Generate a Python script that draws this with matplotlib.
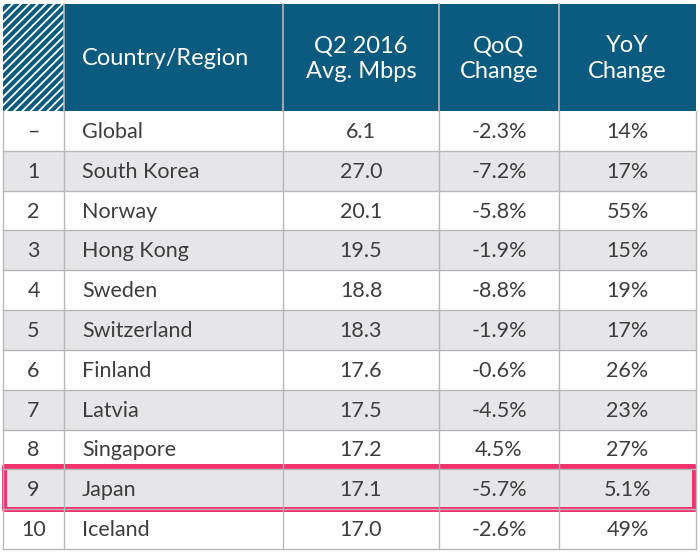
import matplotlib.pyplot as plt
from matplotlib.patches import Rectangle

ranks = ['–', '1', '2', '3', '4', '5', '6', '7', '8', '9', '10']
countries = ['Global', 'South Korea', 'Norway', 'Hong Kong', 'Sweden', 'Switzerland',
             'Finland', 'Latvia', 'Singapore', 'Japan', 'Iceland']
avg_mbps = [6.1, 27.0, 20.1, 19.5, 18.8, 18.3, 17.6, 17.5, 17.2, 17.1, 17.0]
qoq = ['-2.3%', '-7.2%', '-5.8%', '-1.9%', '-8.8%', '-1.9%', '-0.6%', '-4.5%', '4.5%', '-5.7%', '-2.6%']
yoy = ['14%', '17%', '55%', '15%', '19%', '17%', '26%', '23%', '27%', '5.1%', '49%']
headers = ['', 'Country/Region', 'Q2 2016\nAvg. Mbps', 'QoQ\nChange', 'YoY\nChange']
highlight = 'Japan'

HEAD = '#0b5a80'
GRAY = '#e6e6e8'
LINE = '#b8b8b8'
TXT = '#3d3d3d'
PINK = '#f0336e'

col_x = [3, 64, 283, 439, 559, 696]
head_top, head_bot = 4, 111
row_h = (549 - head_bot) / len(countries)

plt.rcParams['font.family'] = ['Lato', 'DejaVu Sans']
plt.rcParams['hatch.linewidth'] = 1.3

fig = plt.figure(figsize=(7, 5.54), dpi=100)
ax = fig.add_axes([0, 0, 1, 1])
ax.set_xlim(0, 700)
ax.set_ylim(554, 0)
ax.axis('off')

# header
for i in range(5):
    x0, x1 = col_x[i], col_x[i + 1]
    if i == 0:
        ax.add_patch(Rectangle((x0, head_top), x1 - x0, head_bot - head_top,
                               facecolor=HEAD, edgecolor='white', hatch='////', lw=0))
    else:
        ax.add_patch(Rectangle((x0, head_top), x1 - x0, head_bot - head_top,
                               facecolor=HEAD, edgecolor='none'))
    if i == 1:
        ax.text(x0 + 18, (head_top + head_bot) / 2 + 1, headers[i], color='white',
                fontsize=17, va='center', ha='left')
    elif i > 1:
        ax.text((x0 + x1) / 2, (head_top + head_bot) / 2 + 1, headers[i], color='white',
                fontsize=17, va='center', ha='center', linespacing=1.25)
for x in col_x[1:-1]:
    ax.plot([x, x], [head_top, head_bot], color=LINE, lw=1.2)

# body
rows = list(zip(ranks, countries, avg_mbps, qoq, yoy))
for r, (rk, name, mb, q, y) in enumerate(rows):
    y0 = head_bot + r * row_h
    fc = GRAY if r % 2 == 1 else 'white'
    ax.add_patch(Rectangle((col_x[0], y0), col_x[-1] - col_x[0], row_h,
                           facecolor=fc, edgecolor='none'))
    yc = y0 + row_h / 2 + 1
    vals = [rk, name, f'{mb:.1f}', q, y]
    for i, v in enumerate(vals):
        if i == 1:
            ax.text(col_x[1] + 18, yc, v, color=TXT, fontsize=15.5, va='center', ha='left')
        else:
            ax.text((col_x[i] + col_x[i + 1]) / 2, yc, v, color=TXT, fontsize=15.5,
                    va='center', ha='center')
    ax.plot([col_x[0], col_x[-1]], [y0 + row_h, y0 + row_h], color=LINE, lw=1)

body_bot = head_bot + len(rows) * row_h
for x in col_x:
    ax.plot([x, x], [head_bot, body_bot], color=LINE, lw=1)

# highlight box
hr = countries.index(highlight)
hy = head_bot + hr * row_h
ax.add_patch(Rectangle((col_x[0] + 1, hy - 3), col_x[-1] - col_x[0] - 3, row_h + 3,
                       facecolor='none', edgecolor=PINK, lw=3.6, joinstyle='round'))

fig.savefig('out.png', dpi=100, facecolor='white')
